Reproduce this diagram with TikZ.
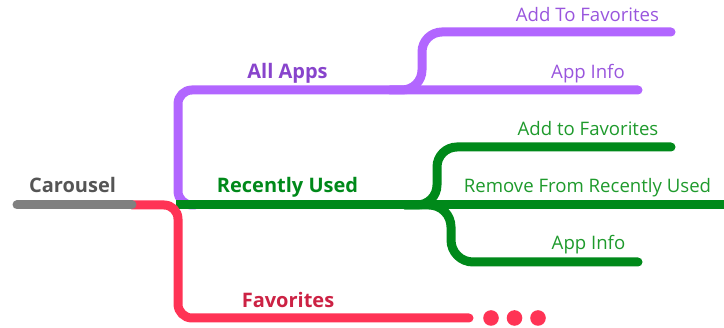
\documentclass[tikz,border=0pt]{standalone}
\usepackage{fontspec}
\setmainfont{Open Sans}
\definecolor{purp}{HTML}{B266FF}
\definecolor{purptxt}{HTML}{9955DD}
\definecolor{purpbold}{HTML}{8844CC}
\definecolor{grn}{HTML}{00891A}
\definecolor{grntxt}{HTML}{1E9A2C}
\definecolor{pnk}{HTML}{FF3355}
\definecolor{pnktxt}{HTML}{CC2244}
\definecolor{gry}{HTML}{808080}
\definecolor{grytxt}{HTML}{555555}
\begin{document}
\begin{tikzpicture}[x=1pt,y=-1pt,
  branch/.style={line width=9pt,line cap=round},
  boldlbl/.style={anchor=base,inner sep=0pt,font=\fontsize{20}{24}\selectfont\bfseries},
  leaflbl/.style={anchor=base,inner sep=0pt,font=\fontsize{18.6}{22}\selectfont}]
\useasboundingbox (0,0) rectangle (724,328);
% junction coordinates
\coordinate (start) at (17,205);
\coordinate (pstart) at (132,205);
\coordinate (hub) at (176,205);
\coordinate (purpbase) at (195,205);
\coordinate (pa) at (178,90);
\coordinate (pfork) at (390,90);
\coordinate (ptopv) at (422,32);
\coordinate (pend1) at (671,32);
\coordinate (pend2) at (638,90);
\coordinate (gfork) at (405,205);
\coordinate (gup) at (437,147);
\coordinate (gdn) at (451,262);
\coordinate (gend1) at (671,147);
\coordinate (gend2) at (724,205);
\coordinate (gend3) at (638,262);
\coordinate (fcorner) at (178,318);
\coordinate (fend) at (469,318);
% purple
\draw[branch,purp,rounded corners=14pt] (purpbase) -| (pa) -- (pend2);
\draw[branch,purp,rounded corners=20pt] (pfork) -| (ptopv) -- (pend1);
% green
\draw[branch,grn,rounded corners=20pt] (gfork) -| (gup) -- (gend1);
\draw[branch,grn,rounded corners=22pt] (gfork) -| (gdn) -- (gend3);
\draw[branch,grn,line cap=butt] (hub) -- (gend2);
% pink
\draw[branch,pnk,rounded corners=14pt] (pstart) -| (fcorner) -- (fend);
\fill[pnk] (491,318) circle (7.8pt) coordinate (d1);
\fill[pnk] (514.5,318) circle (7.8pt) coordinate (d2);
\fill[pnk] (538,318) circle (7.8pt) coordinate (d3);
% gray
\draw[branch,gry] (start) -- (pstart);
% labels
\node[boldlbl,text=grytxt] (carousel) at (72.5,193) {Carousel};
\node[boldlbl,text=purpbold] (allapps) at (287.5,79) {All Apps};
\node[boldlbl,text=grn] (recent) at (287.5,193) {Recently Used};
\node[boldlbl,text=pnktxt] (fav) at (288,308) {Favorites};
\node[leaflbl,text=purptxt] (a1) at (587.5,22) {Add To Favorites};
\node[leaflbl,text=purptxt] (a2) at (588,79) {App Info};
\node[leaflbl,text=grntxt] (r1) at (588,136) {Add to Favorites};
\node[leaflbl,text=grntxt] (r2) at (587.5,193) {Remove From Recently Used};
\node[leaflbl,text=grntxt] (r3) at (588.5,250) {App Info};
\end{tikzpicture}
\end{document}
